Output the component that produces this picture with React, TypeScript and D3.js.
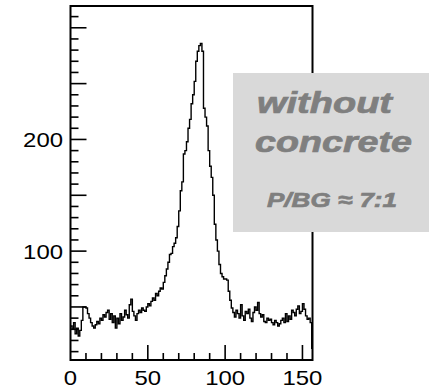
import React from "react";
import * as d3 from "d3";

// Histogram counts per channel (bin width 1), channels 0..156
const counts: number[] = [
  33, 30, 36, 26, 31, 24, 29, 38, 50, 50,
  49, 44, 40, 36, 33, 31, 34, 37, 35, 40,
  38, 43, 41, 45, 47, 39, 44, 36, 42, 31,
  40, 35, 44, 38, 41, 47, 43, 40, 52, 57,
  46, 42, 38, 44, 47, 45, 49, 47, 46, 50,
  53, 51, 55, 58, 56, 62, 60, 64, 67, 66,
  72, 78, 84, 90, 97, 98, 104, 107, 112, 122,
  136, 154, 162, 187, 190, 198, 210, 218, 232, 240,
  252, 270, 279, 284, 286, 279, 228, 220, 212, 190,
  176, 166, 150, 124, 110, 100, 88, 80, 77, 75,
  75, 74, 64, 56, 49, 45, 41, 47, 44, 40,
  52, 42, 38, 46, 44, 48, 40, 37, 45, 50,
  47, 54, 44, 41, 43, 37, 36, 40, 38, 39,
  36, 34, 38, 36, 33, 35, 38, 40, 36, 44,
  37, 42, 39, 47, 45, 42, 48, 51, 44, 46,
  53, 48, 42, 39, 40, 36, 13,
];

const xTickLabels = [0, 50, 100, 150];
const yTickLabels = [100, 200];
const boxLines = ["without", "concrete", "P/BG \u2248 7:1"];

export default function App() {
  const W = 429, H = 389;
  const left = 70.5, right = 312.5, top = 6, bottom = 360;
  const x = d3.scaleLinear().domain([0, 156.5]).range([left, right]);
  const y = d3.scaleLinear().domain([2.5, 319.5]).range([bottom, top]);

  const pts: [number, number][] = counts.map((c, i) => [i, c]);
  pts.push([counts.length, counts[counts.length - 1]]);
  const line = d3
    .line<[number, number]>()
    .x((d) => x(d[0]))
    .y((d) => y(d[1]))
    .curve(d3.curveStepAfter);

  const yMinor = d3.range(10, 320, 10);
  const xMinor = d3.range(10, 157, 10);
  const font = "'Liberation Sans', Arial, sans-serif";
  const labelLen = (v: number) => String(v).length * 13.3;
  const boxText = { fontFamily: font, fontWeight: "bold" as const, fontStyle: "italic" as const, fill: "#7f7f7f", stroke: "#7f7f7f", strokeWidth: 0.7 };

  return (
    <svg width={W} height={H} style={{ position: "absolute", left: 0, top: 0 }}>
      <rect width={W} height={H} fill="#fff" />
      <defs>
        <clipPath id="plotclip">
          <rect x={left} y={top} width={right - left} height={bottom - top} />
        </clipPath>
      </defs>
      <path d={line(pts) || ""} fill="none" stroke="#000" strokeWidth={1.4} clipPath="url(#plotclip)" />
      {yMinor.map((v) => (
        <line key={"yt" + v} x1={left} x2={left + (v % 50 === 0 ? 16 : 8)} y1={y(v)} y2={y(v)} stroke="#000" strokeWidth={1.6} />
      ))}
      {xMinor.map((v) => (
        <line key={"xt" + v} x1={x(v)} x2={x(v)} y1={bottom} y2={bottom - (v % 50 === 0 ? 15 : 7)} stroke="#000" strokeWidth={1.6} />
      ))}
      <rect x={left} y={top} width={right - left} height={bottom - top} fill="none" stroke="#000" strokeWidth={2} />
      {yTickLabels.map((v) => (
        <text key={"yl" + v} x={63 - labelLen(v)} y={y(v) + 7.5} textLength={labelLen(v)} lengthAdjust="spacingAndGlyphs" fontFamily={font} fontSize={21} fill="#000">
          {v}
        </text>
      ))}
      {xTickLabels.map((v) => (
        <text key={"xl" + v} x={x(v) - labelLen(v) / 2} y={385} textLength={labelLen(v)} lengthAdjust="spacingAndGlyphs" fontFamily={font} fontSize={21} fill="#000">
          {v}
        </text>
      ))}
      <rect x={233} y={73} width={W - 233} height={159} fill="#d9d9d9" />
      <text x={257} y={113} textLength={135} lengthAdjust="spacingAndGlyphs" fontSize={29} {...boxText}>
        {boxLines[0]}
      </text>
      <text x={255} y={152} textLength={157} lengthAdjust="spacingAndGlyphs" fontSize={29} {...boxText}>
        {boxLines[1]}
      </text>
      <text x={267} y={207} textLength={130} lengthAdjust="spacingAndGlyphs" fontSize={21} {...boxText}>
        {boxLines[2]}
      </text>
    </svg>
  );
}
